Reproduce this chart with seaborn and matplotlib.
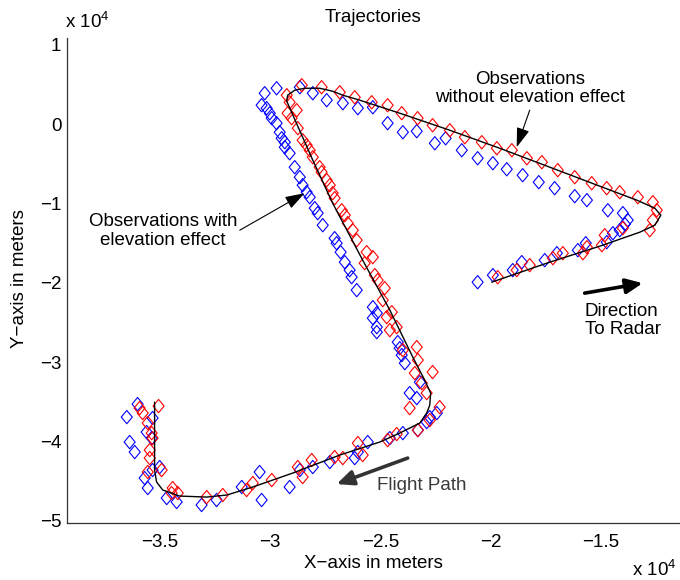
import numpy as np
import pandas as pd
import matplotlib
matplotlib.use("Agg")
import matplotlib.pyplot as plt
from matplotlib.ticker import FuncFormatter, FixedLocator
from matplotlib.path import Path
import seaborn as sns

# ---- data (units of 10^4 m) ----
true_x = [-1.995, -1.732, -1.505, -1.324, -1.256, -1.229, -1.256, -1.338, -1.505, -1.732,
          -1.959, -2.185, -2.412, -2.593, -2.670, -2.716, -2.775, -2.843, -2.888, -2.920,
          -2.924, -2.902, -2.806, -2.716, -2.580, -2.457, -2.353, -2.299, -2.272, -2.276,
          -2.290, -2.321, -2.412, -2.503, -2.684, -2.897, -3.078, -3.196, -3.287, -3.409,
          -3.486, -3.514, -3.523, -3.523, -3.523]
true_y = [-1.992, -1.740, -1.538, -1.362, -1.274, -1.148, -1.059, -0.958, -0.782, -0.542,
          -0.303, -0.076, 0.139, 0.303, 0.366, 0.416, 0.454, 0.454, 0.429, 0.366,
          0.290, 0.151, -0.454, -0.996, -1.715, -2.345, -2.938, -3.228, -3.392, -3.543,
          -3.644, -3.770, -3.896, -4.010, -4.174, -4.401, -4.577, -4.678, -4.704, -4.691,
          -4.615, -4.514, -4.363, -3.985, -3.506]

obs_no_elev_x = [-2.856, -2.766, -2.684, -2.616, -2.539, -2.467, -2.403, -2.331, -2.263, -2.185,
                 -2.117, -2.040, -1.972, -1.904, -1.836, -1.768, -1.696, -1.619, -1.542, -1.474,
                 -1.415, -1.333, -1.265, -1.247, -1.265, -1.279, -1.401, -1.483, -1.496, -1.564,
                 -1.582, -1.673, -1.718, -1.823, -1.882, -1.968,
                 -2.924, -2.911, -2.879, -2.920, -2.902, -2.874, -2.852, -2.834, -2.820, -2.806,
                 -2.775, -2.766, -2.743, -2.729, -2.716, -2.707, -2.675, -2.661, -2.648, -2.625,
                 -2.607, -2.562, -2.534, -2.571, -2.525, -2.512, -2.480, -2.489, -2.448, -2.471,
                 -2.457, -2.426, -2.335, -2.398, -2.330, -2.263, -2.344, -2.312, -2.290, -2.231,
                 -2.367, -2.276, -2.330, -2.426, -2.467, -2.602, -2.580, -2.670,
                 -2.811, -2.874, -2.852, -2.992, -3.078, -3.106, -3.214, -3.287, -3.418, -3.446,
                 -3.441, -3.491, -3.554, -3.545, -3.545, -3.532, -3.536, -3.554, -3.577, -3.591,
                 -3.505, -2.707]
obs_no_elev_y = [0.492, 0.467, 0.403, 0.340, 0.277, 0.240, 0.139, 0.076, -0.013, -0.076,
                 -0.164, -0.227, -0.303, -0.328, -0.429, -0.479, -0.580, -0.668, -0.744, -0.807,
                 -0.858, -0.921, -0.984, -1.085, -1.210, -1.337, -1.311, -1.400, -1.526, -1.551,
                 -1.627, -1.627, -1.690, -1.778, -1.841, -1.930,
                 0.366, 0.277, 0.177, 0.139, 0.076, -0.050, -0.202, -0.265, -0.328, -0.416,
                 -0.542, -0.605, -0.706, -0.769, -0.870, -0.933, -1.085, -1.148, -1.248, -1.337,
                 -1.463, -1.614, -1.677, -1.753, -1.904, -1.967, -2.068, -2.219, -2.371, -2.434,
                 -2.598, -2.560, -2.812, -2.850, -2.976, -3.127, -3.140, -3.266, -3.392, -3.569,
                 -3.581, -3.733, -3.859, -3.909, -3.985, -4.023, -4.174, -4.212,
                 -4.237, -4.325, -4.451, -4.489, -4.527, -4.615, -4.678, -4.704, -4.653, -4.653,
                 -4.590, -4.363, -4.388, -4.212, -4.111, -3.960, -3.897, -3.770, -3.644, -3.581,
                 -3.556, -4.199]

obs_elev_x = [-3.024, -2.970, -3.038, -3.015, -3.001, -2.992, -2.970, -2.956, -2.947, -2.933,
              -2.933, -2.911, -2.888, -2.865, -2.852, -2.834, -2.820, -2.797, -2.784, -2.761,
              -2.707, -2.698, -2.680, -2.661, -2.639, -2.630, -2.607, -2.534, -2.516, -2.534,
              -2.516, -2.516, -2.421, -2.412, -2.403, -2.389, -2.321, -2.367, -2.335, -2.244,
              -2.276, -2.290, -2.330, -2.398, -2.457, -2.557, -2.602, -2.616,
              -2.729, -2.806, -2.865, -2.911, -3.047, -3.038, -3.128, -3.242, -3.310, -3.423,
              -3.468, -3.554, -3.568, -3.532, -3.500, -3.536, -3.559, -3.532, -3.600, -3.649,
              -3.636, -3.613,
              -2.865, -2.806, -2.743, -2.670, -2.602, -2.534, -2.467, -2.398, -2.335, -2.253,
              -2.204, -2.131, -2.059, -1.990, -1.927, -1.855, -1.782, -1.710, -1.619, -1.564,
              -1.469, -1.401, -1.379, -1.392, -1.415, -1.446, -1.474, -1.569, -1.605, -1.700,
              -1.755, -1.859, -1.900, -1.990, -2.059]
obs_elev_y = [0.391, 0.454, 0.240, 0.202, 0.139, 0.076, 0.013, -0.101, -0.177, -0.227,
              -0.290, -0.366, -0.542, -0.668, -0.769, -0.857, -0.921, -1.059, -1.122, -1.274,
              -1.438, -1.501, -1.614, -1.740, -1.841, -1.929, -2.093, -2.308, -2.383, -2.446,
              -2.560, -2.623, -2.749, -2.825, -2.913, -3.014, -3.254, -3.392, -3.455, -3.644,
              -3.695, -3.758, -3.859, -3.897, -3.960, -4.010, -4.136, -4.212,
              -4.262, -4.325, -4.363, -4.577, -4.388, -4.741, -4.577, -4.741, -4.804, -4.766,
              -4.716, -4.590, -4.464, -4.363, -4.325, -3.960, -3.884, -3.707, -3.531, -3.695,
              -4.010, -4.136,
              0.467, 0.391, 0.303, 0.265, 0.202, 0.214, 0.013, -0.101, -0.088, -0.240,
              -0.177, -0.328, -0.429, -0.492, -0.568, -0.643, -0.731, -0.807, -0.908, -0.958,
              -1.085, -1.122, -1.210, -1.261, -1.337, -1.375, -1.488, -1.501, -1.589, -1.627,
              -1.715, -1.740, -1.841, -1.904, -1.993]

x_ticks = [-3.5, -3.0, -2.5, -2.0, -1.5]
y_ticks = [-5, -4, -3, -2, -1, 0, 1]

# ---- styling ----
sns.set_style("white")
plt.rcParams["font.family"] = ["Liberation Sans", "DejaVu Sans"]
plt.rcParams["mathtext.fontset"] = "custom"
plt.rcParams["mathtext.rm"] = "Liberation Sans"
plt.rcParams["mathtext.it"] = "Liberation Sans"
plt.rcParams["text.color"] = "black"
plt.rcParams["axes.labelcolor"] = "black"

FS = 13.5

# MATLAB-like diamond (slightly taller than wide)
diamond = Path([(0, 1), (0.83, 0), (0, -1), (-0.83, 0), (0, 1)],
               [Path.MOVETO, Path.LINETO, Path.LINETO, Path.LINETO, Path.CLOSEPOLY])

fig = plt.figure(figsize=(6.8, 5.8), dpi=100)
ax = fig.add_axes([0.0985, 0.0991, 0.9015, 0.835])

sns.lineplot(x=true_x, y=true_y, sort=False, estimator=None, color="black",
             linewidth=1.0, ax=ax, zorder=3)
sns.scatterplot(x=obs_elev_x, y=obs_elev_y, marker=diamond, s=92, facecolors="none",
                edgecolors=(0, 0, 1), linewidths=0.8, ax=ax, zorder=2)
sns.scatterplot(x=obs_no_elev_x, y=obs_no_elev_y, marker=diamond, s=92, facecolors="none",
                edgecolors=(1, 0, 0), linewidths=0.8, ax=ax, zorder=2)

ax.set_xlim(-3.92, -1.142)
ax.set_ylim(-5.025, 1.085)
ax.xaxis.set_major_locator(FixedLocator(x_ticks))
ax.yaxis.set_major_locator(FixedLocator(y_ticks))
fmt = FuncFormatter(lambda v, p: ("%g" % v).replace("-", "\u2212"))
ax.xaxis.set_major_formatter(fmt)
ax.yaxis.set_major_formatter(fmt)

for s in ["top", "right"]:
    ax.spines[s].set_visible(False)
for s in ["left", "bottom"]:
    ax.spines[s].set_color("#333333")
    ax.spines[s].set_linewidth(0.9)
ax.tick_params(axis="both", direction="in", length=4, width=0.8, color="#333333",
               labelsize=FS, labelcolor="black")
ax.tick_params(axis="x", pad=8)
ax.tick_params(axis="y", pad=4)

fig.text(373 / 680, 1 - 17 / 580, "Trajectories", ha="center", va="center", fontsize=FS)
fig.text(20 / 680, 1 - 279 / 580, "Y\u2212axis in meters", rotation=90, ha="center",
         va="center", fontsize=FS)
fig.text(373 / 680, 1 - 563 / 580, "X\u2212axis in meters", ha="center", va="center",
         fontsize=FS)
fig.text(65 / 680, 1 - 22 / 580, r"x 10$^4$", ha="left", va="center", fontsize=FS)
fig.text(677 / 680, 1 - 570 / 580, r"x 10$^4$", ha="right", va="center", fontsize=FS)

# annotations
thin = dict(arrowstyle="-|>,head_length=1.2,head_width=0.4", color="black", lw=0.8,
            mutation_scale=10, shrinkA=0, shrinkB=0)
ax.text(-1.823, 0.454, "Observations\nwithout elevation effect", ha="center", va="center",
        fontsize=FS, linespacing=1.1)
ax.annotate("", xy=(-1.882, -0.290), xytext=(-1.823, 0.177), arrowprops=thin)
ax.text(-3.486, -1.349, "Observations with\nelevation effect", ha="center", va="center",
        fontsize=FS, linespacing=1.1)
ax.annotate("", xy=(-2.843, -0.870), xytext=(-3.137, -1.337), arrowprops=thin)

thick_grey = dict(arrowstyle="-|>,head_length=1.0,head_width=0.45", color="#333333", lw=2.6,
                  mutation_scale=10, shrinkA=0, shrinkB=0)
ax.text(-2.516, -4.552, "Flight Path", ha="left", va="center", fontsize=FS, color="#3a3a3a")
ax.annotate("", xy=(-2.698, -4.540), xytext=(-2.376, -4.212), arrowprops=thick_grey)

thick = dict(arrowstyle="-|>,head_length=1.0,head_width=0.45", color="black", lw=2.6,
             mutation_scale=10, shrinkA=0, shrinkB=0)
ax.text(-1.574, -2.472, "Direction\nTo Radar", ha="left", va="center", fontsize=FS,
        linespacing=1.1)
ax.annotate("", xy=(-1.311, -2.005), xytext=(-1.574, -2.131), arrowprops=thick)

fig.savefig("out.png", dpi=100)
